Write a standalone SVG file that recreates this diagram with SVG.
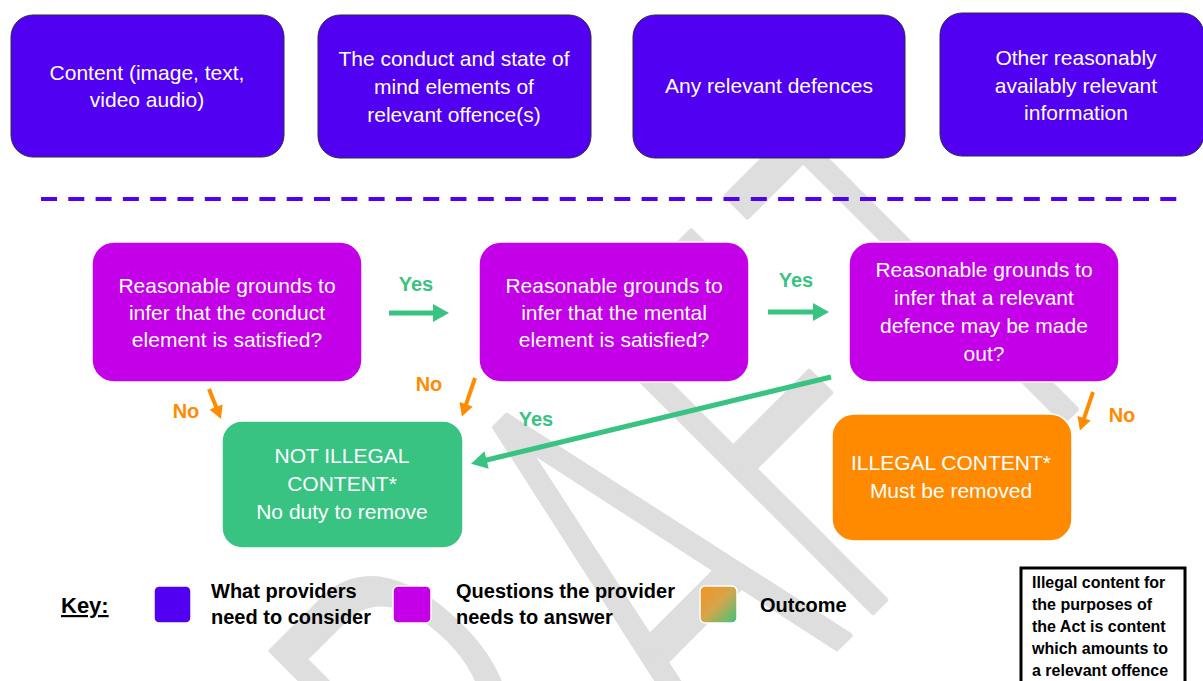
<svg xmlns="http://www.w3.org/2000/svg" width="1203" height="681" viewBox="0 0 1203 681">
<defs>
<style>
.t{font-family:"Liberation Sans",Arial,sans-serif;font-size:21px;fill:#fff;text-anchor:middle}
.top{fill:#5200f2;stroke:#2e2a40;stroke-width:1}
.q{fill:#c400e8;stroke:#fff;stroke-width:1.5}
.lbl{font-family:"Liberation Sans",Arial,sans-serif;font-weight:bold;font-size:20px;text-anchor:middle}
.yes{fill:#38c382}
.no{fill:#ff8c00}
.key{font-family:"Liberation Sans",Arial,sans-serif;font-weight:bold;font-size:20px;fill:#000}
.note{font-family:"Liberation Sans",Arial,sans-serif;font-weight:bold;font-size:16px;fill:#000}
.cg{stroke:#38c382;stroke-width:5;fill:none}
.co{stroke:#ff8c00;stroke-width:4;fill:none}
</style>
<marker id="hg" markerUnits="userSpaceOnUse" markerWidth="17" markerHeight="18" refX="1" refY="9" orient="auto" overflow="visible"><path d="M0,0 L16,9 L0,18 z" fill="#38c382"/></marker>
<marker id="ho" markerUnits="userSpaceOnUse" markerWidth="14" markerHeight="14" refX="1" refY="7" orient="auto" overflow="visible"><path d="M0,0 L13,7 L0,14 z" fill="#ff8c00"/></marker>
<linearGradient id="outg" x1="0" y1="0" x2="1" y2="1">
<stop offset="0" stop-color="#f7921e"/>
<stop offset="0.5" stop-color="#d2a64c"/>
<stop offset="1" stop-color="#3cc47e"/>
</linearGradient>
</defs>
<rect x="0" y="0" width="1203" height="681" fill="#fff"/>
<g id="watermark">
<text transform="rotate(-45) scale(0.58,1)" font-family="Roboto,Liberation Sans,Arial,sans-serif" font-weight="300" font-size="559" fill="#dedede" stroke="#dedede" stroke-width="6" stroke-linejoin="round"><tspan x="-928" y="1050">D</tspan><tspan x="-514" y="1050">R</tspan><tspan x="-78" y="1050">A</tspan><tspan x="266" y="1050">F</tspan><tspan x="631" y="1050">T</tspan></text>
</g>
<g id="top1"><rect class="top" x="11" y="15" width="273" height="142" rx="22"/><text class="t" x="147" y="80">Content (image, text,</text><text class="t" x="147" y="107">video audio)</text></g>
<g id="top2"><rect class="top" x="318" y="15" width="273" height="143" rx="22"/><text class="t" x="454" y="66">The conduct and state of</text><text class="t" x="454" y="94">mind elements of</text><text class="t" x="454" y="122">relevant offence(s)</text></g>
<g id="top3"><rect class="top" x="633" y="15" width="272" height="143" rx="22"/><text class="t" x="769" y="93">Any relevant defences</text></g>
<g id="top4"><rect class="top" x="940" y="13" width="264" height="143" rx="22"/><text class="t" x="1076" y="65">Other reasonably</text><text class="t" x="1076" y="93">availably relevant</text><text class="t" x="1076" y="120">information</text></g>
<g id="divider"><line x1="41" y1="199" x2="1178" y2="199" stroke="#5200f2" stroke-width="4" stroke-dasharray="16 11.3"/></g>
<g id="q1"><rect class="q" x="92" y="242" width="270" height="140" rx="22"/><text class="t" x="227" y="293">Reasonable grounds to</text><text class="t" x="227" y="320">infer that the conduct</text><text class="t" x="227" y="347">element is satisfied?</text></g>
<g id="q2"><rect class="q" x="479" y="242" width="270" height="140" rx="22"/><text class="t" x="614" y="293">Reasonable grounds to</text><text class="t" x="614" y="320">infer that the mental</text><text class="t" x="614" y="347">element is satisfied?</text></g>
<g id="q3"><rect class="q" x="849" y="242" width="270" height="140" rx="22"/><text class="t" x="984" y="277">Reasonable grounds to</text><text class="t" x="984" y="305">infer that a relevant</text><text class="t" x="984" y="333">defence may be made</text><text class="t" x="984" y="361">out?</text></g>
<g id="notillegal"><rect x="222" y="421" width="241" height="127" rx="20" fill="#38c382" stroke="#fff" stroke-width="1.5"/><text class="t" x="342" y="463">NOT ILLEGAL</text><text class="t" x="342" y="491">CONTENT*</text><text class="t" x="342" y="519">No duty to remove</text></g>
<g id="illegal"><rect x="832" y="414" width="240" height="127" rx="22" fill="#ff8a00" stroke="#fff" stroke-width="1.5"/><text class="t" x="951" y="470">ILLEGAL CONTENT*</text><text class="t" x="951" y="498">Must be removed</text></g>
<g id="connectors">
<line class="cg" x1="389" y1="313" x2="434" y2="313" marker-end="url(#hg)"/>
<line class="cg" x1="768" y1="312" x2="814" y2="312" marker-end="url(#hg)"/>
<line class="cg" stroke-width="4.5" x1="831" y1="377" x2="485.6" y2="460.3" marker-end="url(#hg)"/>
<line class="co" x1="209" y1="389" x2="216.5" y2="407.9" marker-end="url(#ho)"/>
<line class="co" x1="475" y1="378" x2="465.8" y2="405.1" marker-end="url(#ho)"/>
<line class="co" x1="1093" y1="392" x2="1083.8" y2="419.1" marker-end="url(#ho)"/>
<text class="lbl yes" x="416" y="291">Yes</text>
<text class="lbl yes" x="796" y="287">Yes</text>
<text class="lbl yes" x="536" y="426">Yes</text>
<text class="lbl no" x="186" y="418">No</text>
<text class="lbl no" x="429" y="391">No</text>
<text class="lbl no" x="1122" y="422">No</text>
</g>
<g id="key">
<text x="61" y="613" font-family="Liberation Sans,Arial,sans-serif" font-weight="bold" font-size="22" text-decoration="underline" fill="#000">Key:</text>
<rect x="154" y="586" width="37" height="37" rx="5" fill="#5200f2" stroke="#fff" stroke-width="1.5"/>
<text class="key" x="211" y="598">What providers</text>
<text class="key" x="211" y="624">need to consider</text>
<rect x="393" y="586" width="38" height="37" rx="5" fill="#c400e8" stroke="#fff" stroke-width="1.5"/>
<text class="key" x="456" y="598">Questions the provider</text>
<text class="key" x="456" y="624">needs to answer</text>
<rect x="700" y="586" width="37" height="37" rx="5" fill="url(#outg)" stroke="#fff" stroke-width="1.5"/>
<text class="key" x="760" y="612">Outcome</text>
</g>
<g id="note">
<rect x="1021" y="568" width="164" height="125" fill="#fff" stroke="#000" stroke-width="3"/>
<text class="note" x="1032" y="588">Illegal content for</text>
<text class="note" x="1032" y="610">the purposes of</text>
<text class="note" x="1032" y="632">the Act is content</text>
<text class="note" x="1032" y="654">which amounts to</text>
<text class="note" x="1032" y="676">a relevant offence</text>
</g>
</svg>
